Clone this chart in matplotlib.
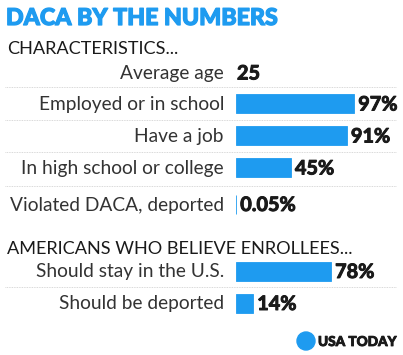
import matplotlib.pyplot as plt
import matplotlib.patheffects as pe
from matplotlib.patches import Circle

# data
title = "DACA BY THE NUMBERS"
section_1 = "CHARACTERISTICS..."
section_2 = "AMERICANS WHO BELIEVE ENROLLEES..."
age_label = "Average age"
age_value = 25
char_labels = ["Employed or in school", "Have a job",
               "In high school or college", "Violated DACA, deported"]
char_values = [97, 91, 45, 0.05]
opinion_labels = ["Should stay in the U.S.", "Should be deported"]
opinion_values = [78, 14]

BLUE = "#1e9bf0"
DARK = "#1a1a1a"
GREY = "#333333"
FONT = "Lato"

W, H = 403, 355
fig = plt.figure(figsize=(W / 100, H / 100), dpi=100)

# text layer in pixel coordinates
tx = fig.add_axes([0, 0, 1, 1])
tx.set_xlim(0, W)
tx.set_ylim(H, 0)
tx.axis("off")

# bar layer: x in percent, y in pixels
bar_left, px_per_pct = 236, 1.217
bx = fig.add_axes([bar_left / W, 0, 100 * px_per_pct / W, 1])
bx.set_xlim(0, 100)
bx.set_ylim(H, 0)
bx.axis("off")


def heavy(color, w=0.7):
    # thicken the bold face a bit
    return [pe.withStroke(linewidth=w, foreground=color)]


tx.text(6, 25, title, color=BLUE, fontsize=16.7, fontweight="black",
        family=FONT, va="baseline", path_effects=heavy(BLUE, 0.9))
tx.text(7, 54, section_1, color=DARK, fontsize=13.1, family=FONT, va="baseline")
tx.text(7, 254, section_2, color=DARK, fontsize=13.1, family=FONT, va="baseline")

label_x = 224
label_kw = dict(color=GREY, fontsize=13.8, family=FONT, ha="right", va="baseline")
value_kw = dict(color=DARK, fontsize=14.3, family=FONT, fontweight="bold",
                va="baseline", textcoords="offset points",
                path_effects=heavy(DARK))

# average age row
tx.text(label_x, 79, age_label, **label_kw)
tx.text(237, 79.5, str(age_value), color=DARK, fontsize=14.3, family=FONT,
        fontweight="bold", va="baseline", path_effects=heavy(DARK))

rows_y = [103.5, 135.5, 167.5, 204, 271, 303]
labels = char_labels + opinion_labels
values = char_values + opinion_values
bx.barh(rows_y, values, height=19, color=BLUE, edgecolor=BLUE, linewidth=0.6)
for y, lab, v in zip(rows_y, labels, values):
    tx.text(label_x, y + 6.5, lab, **label_kw)
    txt = f"{v:g}%" if v >= 1 else f"{v:.2f}%"
    bx.annotate(txt, (v, y + 7), xytext=(3, 0), **value_kw)

# dotted separators
for y in [87, 120, 152, 186, 287]:
    tx.plot([5, 396], [y, y], color="#cccccc", lw=0.6, ls=(0, (1, 1)))

# logo
tx.add_patch(Circle((306, 341), 9, color=BLUE))
tx.text(318, 346, "USA TODAY", color=DARK, fontsize=9.8, fontweight="black",
        family=FONT, va="baseline", path_effects=heavy(DARK, 0.6))

fig.savefig("out.png", dpi=100)
